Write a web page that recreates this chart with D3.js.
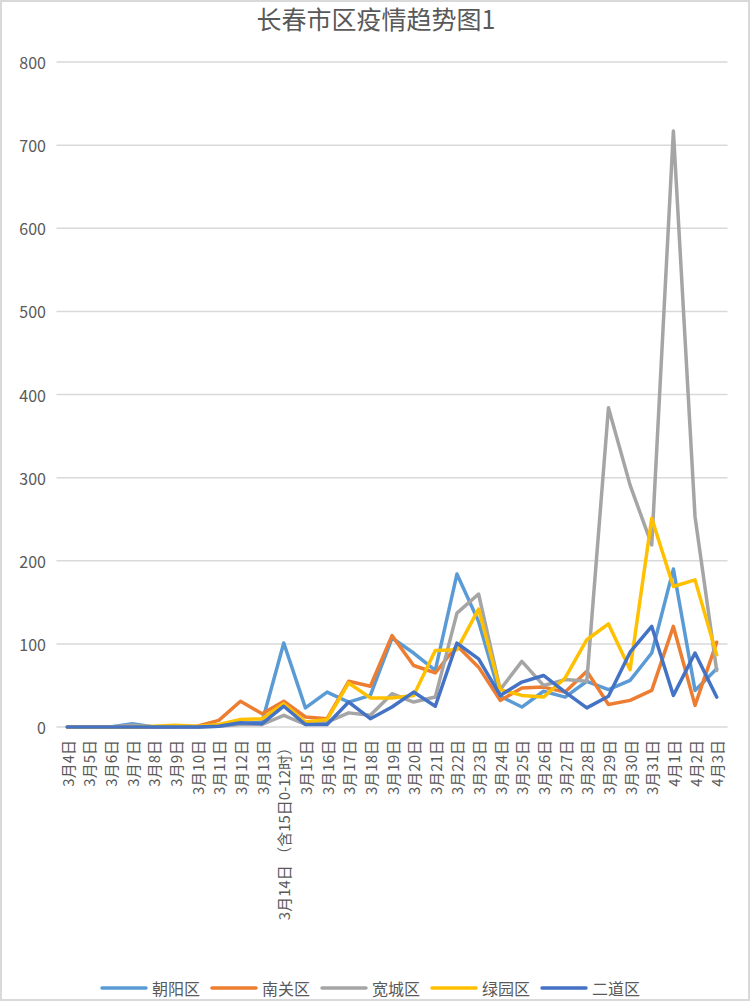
<!DOCTYPE html>
<html>
<head>
<meta charset="utf-8">
<script src="https://cdn.jsdelivr.net/npm/d3@7"></script>
<style>
  body { margin: 0; background: #fff; }
  text { font-family: "Noto Sans CJK SC", "Noto Sans", sans-serif; fill: #595959; }
</style>
</head>
<body>
<div id="chart"></div>
<script>
const categories = ["3月4日","3月5日","3月6日","3月7日","3月8日","3月9日","3月10日","3月11日","3月12日","3月13日",
  "3月14日 （含15日0-12时）","3月15日","3月16日","3月17日","3月18日","3月19日","3月20日","3月21日","3月22日","3月23日",
  "3月24日","3月25日","3月26日","3月27日","3月28日","3月29日","3月30日","3月31日","4月1日","4月2日","4月3日"];

const seriesNames = ["朝阳区", "南关区", "宽城区", "绿园区", "二道区"];
const seriesColors = ["#5B9BD5", "#ED7D31", "#A5A5A5", "#FFC000", "#4472C4"];

const chaoyang = [0,0,0,4,0,1,0,2,4,6,101,23,42,30,38,107,89,68,184,127,37,24,43,36,55,45,56,89,190,44,70];
const nanguan  = [0,0,0,0,0,0,1,8,31,16,31,12,10,55,49,110,74,65,98,72,32,47,48,42,67,27,32,44,121,26,102];
const kuancheng = [0,0,0,2,0,0,0,1,3,3,14,3,6,17,14,40,30,36,137,160,45,79,50,57,55,384,291,219,717,253,68];
const lvyuan   = [0,0,0,0,1,2,1,3,9,10,28,6,9,53,35,35,38,92,93,142,45,38,36,59,105,124,69,251,169,177,87];
const erdao    = [0,0,0,0,0,0,0,1,5,4,25,3,3,30,10,24,42,25,101,82,38,54,62,42,23,37,90,121,38,89,36];

const seriesValues = [chaoyang, nanguan, kuancheng, lvyuan, erdao];
const yTicks = [0,100,200,300,400,500,600,700,800];

const width = 752, height = 1001;
const plotLeft = 56.5, plotRight = 727.5, plotTop = 62, plotBottom = 727;

var svg = d3.select("#chart").append("svg")
  .attr("width", width)
  .attr("height", height);

// frame
svg.append("rect")
  .attr("x", 1).attr("y", 1)
  .attr("width", width - 4).attr("height", height - 2)
  .attr("fill", "#fff")
  .attr("stroke", "#D9D9D9")
  .attr("stroke-width", 2);

var x = d3.scaleBand().domain(categories).range([plotLeft, plotRight]);
var y = d3.scaleLinear().domain([0, 800]).range([plotBottom, plotTop]);
var cx = (d) => x(d) + x.bandwidth() / 2;

// title
svg.append("text")
  .attr("x", 376).attr("y", 29)
  .attr("text-anchor", "middle")
  .style("font-size", "25px")
  .text("长春市区疫情趋势图1");

// gridlines
svg.append("g").selectAll("line")
  .data(yTicks)
  .enter().append("line")
  .attr("x1", plotLeft).attr("x2", plotRight)
  .attr("y1", (d) => y(d)).attr("y2", (d) => y(d))
  .attr("stroke", "#D9D9D9")
  .attr("stroke-width", 1.5);

// y labels
svg.append("g").selectAll("text")
  .data(yTicks)
  .enter().append("text")
  .attr("x", 46).attr("y", (d) => y(d))
  .attr("text-anchor", "end")
  .attr("dominant-baseline", "central")
  .style("font-size", "16px")
  .text((d) => d);

// x labels
svg.append("g").selectAll("text")
  .data(categories)
  .enter().append("text")
  .attr("transform", (d) => "translate(" + cx(d) + ",740) rotate(-90)")
  .attr("text-anchor", "end")
  .attr("dominant-baseline", "central")
  .style("font-size", "15px")
  .text((d) => d);

// lines
var line = d3.line()
  .x((d, i) => cx(categories[i]))
  .y((d) => y(d));

svg.append("g").selectAll("path")
  .data(seriesValues)
  .enter().append("path")
  .attr("fill", "none")
  .attr("stroke", (d, i) => seriesColors[i])
  .attr("stroke-width", 3.5)
  .attr("stroke-linejoin", "round")
  .attr("stroke-linecap", "round")
  .attr("d", line);

// legend
var legend = svg.append("g").selectAll("g")
  .data(seriesNames)
  .enter().append("g")
  .attr("transform", (d, i) => "translate(" + (102 + i * 110) + ",988)");

legend.append("line")
  .attr("x1", 0).attr("x2", 44)
  .attr("y1", 0).attr("y2", 0)
  .attr("stroke", (d, i) => seriesColors[i])
  .attr("stroke-width", 3.5)
  .attr("stroke-linecap", "round");

legend.append("text")
  .attr("x", 50).attr("y", 0)
  .attr("dominant-baseline", "central")
  .style("font-size", "16px")
  .text((d) => d);
</script>
</body>
</html>
